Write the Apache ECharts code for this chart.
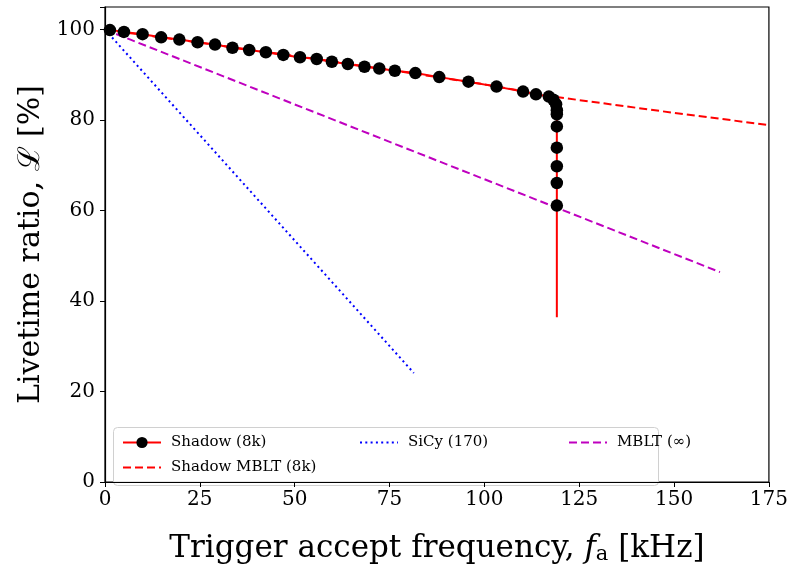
<!DOCTYPE html>
<html><head><meta charset="utf-8">
<script src="https://cdn.jsdelivr.net/npm/echarts@6/dist/echarts.min.js"></script>
<style>html,body{margin:0;padding:0;background:#fff}#c{width:791px;height:570px}</style>
</head><body><div id="c"></div>
<script>
const xTicks = [0, 25, 50, 75, 100, 125, 150, 175];
const yTicks = [0, 20, 40, 60, 80, 100];
const shadowX = [1.3, 5.0, 9.9, 14.8, 19.6, 24.4, 29.0, 33.6, 38.0, 42.4, 47.0, 51.4, 55.8, 59.8, 64.0, 68.4, 72.3, 76.4, 81.8, 88.1, 95.8, 103.2, 110.2, 113.6, 117.0, 118.2, 118.9, 119.1, 119.1, 119.1, 119.1, 119.1, 119.1, 119.1, 119.1];
const shadowY = [99.9, 99.5, 99.0, 98.3, 97.8, 97.2, 96.7, 96.0, 95.5, 95.0, 94.4, 93.9, 93.5, 92.9, 92.4, 91.8, 91.4, 90.9, 90.4, 89.5, 88.5, 87.4, 86.3, 85.7, 85.2, 84.5, 83.5, 82.2, 81.3, 78.6, 73.9, 69.8, 66.1, 61.1, 36.4];
const shadowMarker = [1,1,1,1,1,1,1,1,1,1,1,1,1,1,1,1,1,1,1,1,1,1,1,1,1,1,1,1,1,1,1,1,1,1,0];
const shadowMbltX = [0, 25, 50, 75, 100, 119, 150, 175];
const shadowMbltY = [100, 97.1, 94.2, 91.1, 87.9, 85.1, 81.6, 78.9];
const sicyX = [0, 81.4];
const sicyY = [100, 24.1];
const mbltX = [0, 162.1];
const mbltY = [100, 46.4];

const FONT = '"DejaVu Serif", "Liberation Serif", serif';
const zip = (a, b) => a.map((v, i) => [v, b[i]]);
const shadowData = shadowX.map((v, i) => shadowMarker[i] ? [v, shadowY[i]] : {value: [v, shadowY[i]], symbol: 'none'});
const legText = {fontFamily: FONT, fontSize: 15, color: '#000', padding: [0, 0, 0, 5]};
const noSym = {opacity: 0};

const chart = echarts.init(document.getElementById('c'), null, {renderer: 'canvas'});
chart.setOption({
  animation: false,
  backgroundColor: '#fff',
  grid: {left: 105, right: 22, top: 7, bottom: 76, show: true, borderColor: '#000', borderWidth: 1.2, backgroundColor: 'transparent'},
  xAxis: {
    type: 'value', min: 0, max: 175, interval: 25,
    name: 'Trigger accept frequency, {i|f}{s|a} [kHz]', nameLocation: 'middle', nameGap: 50,
    nameTextStyle: {fontFamily: FONT, fontSize: 31, color: '#000',
      rich: {i: {fontFamily: FONT, fontStyle: 'italic', fontSize: 31, color: '#000'},
             s: {fontFamily: FONT, fontSize: 21, color: '#000', padding: [12, 0, 0, 0]}}},
    axisLine: {show: true, lineStyle: {color: '#000', width: 1.2}},
    axisTick: {show: true, inside: false, length: 5, lineStyle: {color: '#000'}},
    axisLabel: {fontFamily: FONT, fontSize: 20, color: '#000', margin: 8,
      formatter: v => xTicks.includes(v) ? String(v) : ''},
    splitLine: {show: false}
  },
  yAxis: {
    type: 'value', min: 0, max: 105, interval: 20,
    name: 'Livetime ratio, ℒ [%]', nameLocation: 'middle', nameGap: 54,
    nameTextStyle: {fontFamily: FONT, fontSize: 30, color: '#000'},
    axisLine: {show: true, lineStyle: {color: '#000', width: 1.2}},
    axisTick: {show: true, inside: false, length: 5, lineStyle: {color: '#000'}},
    axisLabel: {fontFamily: FONT, fontSize: 20, color: '#000', margin: 10,
      formatter: v => yTicks.includes(v) ? String(v) : ''},
    splitLine: {show: false}
  },
  legend: [
    {left: 117, top: 430, orient: 'vertical', itemWidth: 38, itemHeight: 14, itemGap: 10, textStyle: legText,
     data: ['Shadow (8k)', {name: 'Shadow MBLT (8k)', itemStyle: noSym}]},
    {left: 354, top: 430, orient: 'vertical', itemWidth: 38, itemHeight: 14, textStyle: legText,
     data: [{name: 'SiCy (170)', itemStyle: noSym}]},
    {left: 563, top: 430, orient: 'vertical', itemWidth: 38, itemHeight: 14, textStyle: legText,
     data: [{name: 'MBLT (∞)', itemStyle: noSym}]}
  ],
  graphic: [{type: 'rect', left: 113, top: 427, z: 0,
    shape: {width: 545, height: 58, r: 4},
    style: {fill: 'rgba(255,255,255,0.8)', stroke: '#d0d0d0', lineWidth: 1}}],
  series: [
    {name: 'Shadow MBLT (8k)', type: 'line', data: zip(shadowMbltX, shadowMbltY), showSymbol: false, symbol: 'none',
     lineStyle: {color: '#ff0000', width: 2, type: [8, 4]}, itemStyle: {color: '#ff0000'}, z: 2},
    {name: 'SiCy (170)', type: 'line', data: zip(sicyX, sicyY), showSymbol: false, symbol: 'none',
     lineStyle: {color: '#0000ff', width: 2, type: [2, 3.3]}, itemStyle: {color: '#0000ff'}, z: 2},
    {name: 'MBLT (∞)', type: 'line', data: zip(mbltX, mbltY), showSymbol: false, symbol: 'none',
     lineStyle: {color: '#bf00bf', width: 2, type: [8, 4]}, itemStyle: {color: '#bf00bf'}, z: 2},
    {name: 'Shadow (8k)', type: 'line', data: shadowData, symbol: 'circle', symbolSize: 12.5, showAllSymbol: true,
     lineStyle: {color: '#ff0000', width: 2}, itemStyle: {color: '#000'}, z: 3}
  ]
});
</script></body></html>
